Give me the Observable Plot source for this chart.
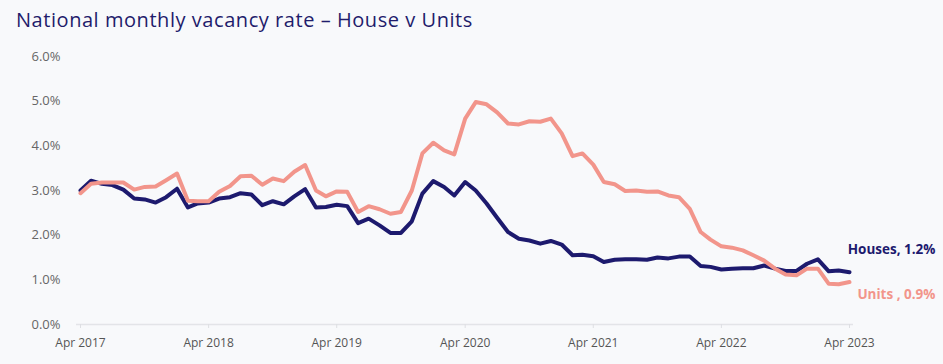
<!DOCTYPE html>
<html>
<head>
<meta charset="utf-8">
<script src="https://cdn.jsdelivr.net/npm/d3@7"></script>
<script src="https://cdn.jsdelivr.net/npm/@observablehq/plot@0.6"></script>
<style>
  html, body { margin: 0; padding: 0; background: #f8f9fb; }
  #title { font-family: "Open Sans", "Noto Sans", sans-serif; font-size: 20px; letter-spacing: 0.55px; color: #1f1c6b; height: 38px; line-height: 40px; padding-left: 16px; white-space: nowrap; }
  #chart svg { display: block; }
</style>
</head>
<body>
<div id="title">National monthly vacancy rate – House v Units</div>
<div id="chart"></div>
<script>
const startMonth = "2017-04";
const houses = [3.00,3.22,3.15,3.12,3.02,2.82,2.80,2.73,2.85,3.04,2.62,2.71,2.73,2.82,2.85,2.94,2.91,2.67,2.76,2.69,2.87,3.03,2.62,2.63,2.68,2.65,2.27,2.37,2.22,2.05,2.05,2.31,2.93,3.21,3.08,2.89,3.19,3.00,2.71,2.39,2.07,1.92,1.88,1.81,1.87,1.79,1.55,1.56,1.53,1.40,1.45,1.46,1.46,1.45,1.50,1.48,1.52,1.52,1.31,1.29,1.23,1.25,1.26,1.26,1.32,1.25,1.20,1.20,1.36,1.46,1.19,1.21,1.17];
const units = [2.94,3.15,3.18,3.18,3.18,3.02,3.08,3.09,3.23,3.38,2.77,2.76,2.76,2.97,3.10,3.32,3.33,3.13,3.27,3.21,3.42,3.57,3.00,2.87,2.98,2.97,2.52,2.65,2.58,2.48,2.52,3.00,3.83,4.07,3.90,3.81,4.61,4.98,4.93,4.75,4.50,4.48,4.55,4.54,4.61,4.28,3.77,3.83,3.58,3.19,3.14,2.99,3.00,2.97,2.98,2.89,2.85,2.59,2.07,1.90,1.75,1.72,1.66,1.55,1.43,1.25,1.12,1.10,1.25,1.25,0.91,0.90,0.95];
const tickYears = [2017, 2018, 2019, 2020, 2021, 2022, 2023];
const yTicks = [0, 1, 2, 3, 4, 5, 6];
const seriesNames = ["Houses", "Units"];
const endLabels = ["Houses, 1.2%", "Units , 0.9%"];
const colors = ["#1d1a6e", "#f2958b"];

const start = d3.utcParse("%Y-%m")(startMonth);
const rows = [];
houses.forEach((v, i) => rows.push({date: d3.utcMonth.offset(start, i), value: v, series: "Houses"}));
units.forEach((v, i) => rows.push({date: d3.utcMonth.offset(start, i), value: v, series: "Units"}));
const lastRows = seriesNames.map((s, k) => {
  const arr = s === "Houses" ? houses : units;
  return {date: d3.utcMonth.offset(start, arr.length - 1), value: arr[arr.length - 1], series: s, label: endLabels[k]};
});
const xTicks = tickYears.map(y => new Date(Date.UTC(y, 3, 1)));

const chart = Plot.plot({
  width: 943,
  height: 326,
  marginTop: 18,
  marginBottom: 40,
  marginLeft: 76,
  marginRight: 90,
  insetLeft: 4,
  insetRight: 4,
  style: {background: "transparent", fontFamily: "'Open Sans', 'Noto Sans', sans-serif"},
  x: {type: "utc", domain: [xTicks[0], xTicks[xTicks.length - 1]], ticks: xTicks, tickFormat: d3.utcFormat("%b %Y"), label: null},
  y: {domain: [0, 6], ticks: yTicks, tickFormat: d => d.toFixed(1) + "%", label: null},
  color: {domain: seriesNames, range: colors},
  marks: [
    Plot.ruleY([0], {stroke: "#e3e4e8", strokeWidth: 1.5}),
    Plot.axisX({ticks: xTicks, tickFormat: d3.utcFormat("%b %Y"), tickSize: 4, tickPadding: 10, stroke: "#dedfe3", fill: "#555", fontSize: 12}),
    Plot.axisY({ticks: yTicks, tickFormat: d => d.toFixed(1) + "%", tickSize: 0, tickPadding: 16, fill: "#666", fontSize: 13}),
    Plot.line(rows, {x: "date", y: "value", z: "series", stroke: "series", strokeWidth: 4, strokeLinejoin: "round", strokeLinecap: "round"}),
    Plot.text(lastRows.filter(d => d.series === "Houses"), {x: "date", y: "value", text: "label", textAnchor: "end", dx: 86, dy: -23, fill: colors[0], fontWeight: "bold", fontSize: 13.5}),
    Plot.text(lastRows.filter(d => d.series === "Units"), {x: "date", y: "value", text: "label", textAnchor: "end", dx: 86, dy: 13, fill: colors[1], fontWeight: "bold", fontSize: 13.5})
  ]
});
document.getElementById("chart").appendChild(chart);
</script>
</body>
</html>
